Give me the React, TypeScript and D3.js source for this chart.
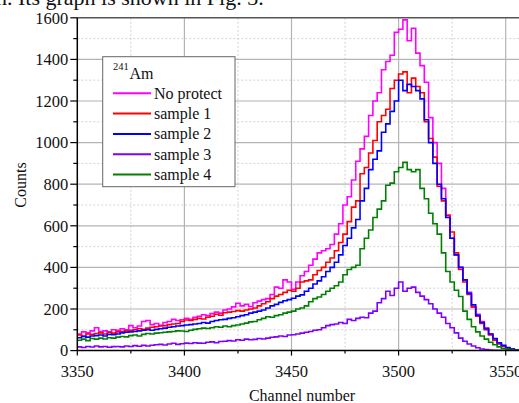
import React from 'react';
import * as d3 from 'd3';

// channel bins (2 channels per bin)
const channels = d3.range(3350, 3557, 2);

const noProtect = [
  80, 90, 85, 95, 110, 92, 95, 90, 100, 98,
  105, 100, 120, 110, 118, 140, 145, 125, 130, 122,
  135, 140, 150, 145, 148, 155, 150, 160, 165, 172,
  168, 178, 185, 180, 195, 200, 210, 228, 215, 222,
  212, 230, 238, 245, 250, 270, 305, 300, 340, 330,
  295, 330, 360, 380, 410, 440, 470, 480, 490, 510,
  560, 610, 700, 740, 820, 910, 970, 1030, 1130, 1200,
  1240, 1350, 1390, 1420, 1530, 1545, 1590, 1490, 1550, 1430,
  1370, 1290, 1120, 1000, 900, 780, 650, 540, 460, 400,
  340, 280, 210, 175, 140, 110, 80, 55, 35, 22,
  12, 7, 4, 3
];

const sample1 = [
  75, 70, 80, 78, 82, 85, 80, 88, 84, 90,
  92, 95, 98, 100, 105, 102, 108, 112, 115, 118,
  120, 125, 128, 130, 140, 147, 145, 150, 155, 152,
  160, 165, 175, 170, 182, 185, 188, 192, 190, 195,
  200, 205, 215, 225, 235, 250, 262, 270, 280, 290,
  285, 300, 330, 335, 340, 365, 385, 400, 425, 445,
  480, 520, 560, 620, 690, 720, 850, 880, 950, 1010,
  1100, 1130, 1160, 1260, 1300, 1330, 1340, 1240, 1310, 1270,
  1240, 1100, 1020, 930, 790, 720, 650, 570, 470, 390,
  330, 270, 210, 165, 130, 100, 75, 50, 32, 20,
  12, 6, 3, 2
];

const sample2 = [
  62, 68, 65, 70, 72, 75, 70, 78, 76, 80,
  85, 88, 90, 92, 95, 98, 100, 98, 102, 105,
  108, 112, 115, 118, 120, 123, 125, 128, 130, 135,
  132, 140, 145, 148, 150, 155, 158, 163, 168, 172,
  180, 185, 190, 195, 205, 215, 222, 232, 240, 245,
  252, 262, 268, 285, 300, 320, 335, 355, 380, 400,
  425, 460, 505, 540, 590, 630, 720, 780, 870, 920,
  960, 1050, 1090, 1150, 1200, 1300, 1250, 1280, 1270, 1250,
  1210, 1110, 1000, 900, 800, 730, 640, 540, 460, 400,
  340, 275, 220, 170, 135, 105, 80, 58, 38, 25,
  15, 8, 4, 3
];

const sample3 = [
  18, 15, 20, 17, 22, 18, 20, 16, 19, 20,
  18, 22, 20, 24, 21, 25, 22, 26, 28, 30,
  27, 32, 35, 30, 33, 36, 34, 38, 36, 35,
  40, 42, 38, 44, 45, 48, 46, 52, 50, 55,
  52, 54, 58, 56, 60, 64, 66, 70, 68, 75,
  76, 80, 84, 88, 92, 98, 100, 110, 120, 125,
  128, 135, 130, 150, 145, 155, 160, 158, 180, 190,
  230, 250, 285, 265, 300, 330, 285, 300, 305, 280,
  262, 245, 225, 200, 180, 160, 130, 110, 85, 60,
  45, 32, 22, 14, 8, 5, 3, 2, 1, 1,
  0, 0, 0, 0
];

const sample4 = [
  50, 55, 48, 58, 55, 60, 56, 62, 60, 65,
  68, 66, 72, 75, 70, 78, 82, 80, 84, 86,
  88, 90, 92, 95, 94, 92, 98, 102, 105, 108,
  106, 110, 115, 112, 118, 115, 120, 123, 128, 132,
  138, 140, 148, 155, 163, 160, 168, 172, 180, 185,
  190, 200, 205, 215, 235, 250, 258, 270, 285, 300,
  312, 330, 365, 390, 400, 410, 490, 540, 580, 640,
  680, 720, 795, 805, 860, 880, 905, 870, 860, 870,
  780, 730, 660, 610, 560, 470, 380, 330, 290, 260,
  190, 150, 115, 90, 70, 55, 40, 28, 18, 10,
  6, 3, 2, 1
];

const seriesNames = ['No protect', 'sample 1', 'sample 2', 'sample 3', 'sample 4'];
const seriesColors = ['#ff00ff', '#ff0000', '#0000ff', '#8000ff', '#008000'];
const seriesValues = [noProtect, sample1, sample2, sample3, sample4];

const xTicks = [3350, 3400, 3450, 3500, 3550];
const xMinor = [3375, 3425, 3475, 3525];
const yTicks = [0, 200, 400, 600, 800, 1000, 1200, 1400, 1600];
const yMinor = [100, 300, 500, 700, 900, 1100, 1300, 1500];

const W = 519;
const H = 403;
const font = '"Liberation Serif", "Times New Roman", serif';

export default function App() {
  const x = d3.scaleLinear().domain([3350, 3550]).range([77.3, 505.7]);
  const y = d3.scaleLinear().domain([0, 1600]).range([350.6, 17.8]);
  const left = x(3350);
  const right = W + 10;
  const top = y(1600);
  const bottom = y(0);

  const line = d3.line<[number, number]>()
    .x(d => x(d[0]))
    .y(d => y(d[1]))
    .curve(d3.curveStepAfter);

  const paths = seriesValues.map(vals => {
    const pts: [number, number][] = vals.map((v, i) => [channels[i], v]);
    pts.push([channels[channels.length - 1] + 2, vals[vals.length - 1]]);
    return line(pts) || '';
  });

  return (
    <svg width={W} height={H} style={{ position: 'absolute', left: 0, top: 0, background: '#fff' }}
      fontFamily={font}>
      <defs>
        <clipPath id="plot">
          <rect x={left} y={top - 2} width={right - left} height={bottom - top + 2} />
        </clipPath>
      </defs>

      {/* running text of the page, cut off at the top */}
      <text x={-4} y={5} fontSize={22} fill="#111">n. Its graph is shown in Fig. 3.</text>

      {/* grid */}
      {xMinor.map(t => (
        <line key={'xm' + t} x1={x(t)} x2={x(t)} y1={top} y2={bottom} stroke="#d2d2d2" strokeDasharray="2,2" />
      ))}
      {yMinor.map(t => (
        <line key={'ym' + t} x1={left} x2={right} y1={y(t)} y2={y(t)} stroke="#d2d2d2" strokeDasharray="2,2" />
      ))}
      {xTicks.slice(1).map(t => (
        <line key={'xg' + t} x1={x(t)} x2={x(t)} y1={top} y2={bottom} stroke="#b4b4b4" strokeWidth={1.2} />
      ))}
      {yTicks.slice(1, -1).map(t => (
        <line key={'yg' + t} x1={left} x2={right} y1={y(t)} y2={y(t)} stroke="#b4b4b4" strokeWidth={1.2} />
      ))}
      <line x1={left} x2={right} y1={top} y2={top} stroke="#555" strokeWidth={1.5} />

      {/* series */}
      <g clipPath="url(#plot)">
        {paths.map((p, i) => (
          <path key={seriesNames[i]} d={p} fill="none" stroke={seriesColors[i]} strokeWidth={1.6} />
        ))}
      </g>

      {/* axes */}
      <line x1={left} x2={left} y1={top} y2={bottom} stroke="#000" strokeWidth={1.5} />
      <line x1={left} x2={right} y1={bottom} y2={bottom} stroke="#000" strokeWidth={1.5} />
      {yTicks.map(t => (
        <g key={'yt' + t}>
          <line x1={left - 7} x2={left} y1={y(t)} y2={y(t)} stroke="#000" strokeWidth={1.2} />
          <text x={left - 9} y={y(t)} dy="0.35em" textAnchor="end" fontSize={16.5} fill="#111">{t}</text>
        </g>
      ))}
      {yMinor.map(t => (
        <line key={'ymt' + t} x1={left - 4} x2={left} y1={y(t)} y2={y(t)} stroke="#000" strokeWidth={1.2} />
      ))}
      {xTicks.map(t => (
        <g key={'xt' + t}>
          <line x1={x(t)} x2={x(t)} y1={bottom} y2={bottom + 5} stroke="#000" strokeWidth={1.2} />
          <text x={x(t)} y={bottom + 26} textAnchor="middle" fontSize={16.5} fill="#111">{t}</text>
        </g>
      ))}
      {xMinor.map(t => (
        <line key={'xmt' + t} x1={x(t)} x2={x(t)} y1={bottom} y2={bottom + 3} stroke="#000" strokeWidth={1.2} />
      ))}

      {/* axis titles */}
      <text x={302} y={401} textAnchor="middle" fontSize={16} fill="#111">Channel number</text>
      <text transform="translate(26,185) rotate(-90)" textAnchor="middle" fontSize={16} fill="#111">Counts</text>

      {/* legend */}
      <rect x={102.7} y={56.7} width={132.3} height={130} fill="#fff" stroke="#666" strokeWidth={1} />
      <text x={113} y={70} fontSize={10.5} fill="#111">241</text>
      <text x={129.5} y={78.5} fontSize={16} fill="#111">Am</text>
      {seriesNames.map((name, i) => {
        const cy = 93.3 + i * 20.3;
        return (
          <g key={'lg' + name}>
            <line x1={113} x2={151} y1={cy} y2={cy} stroke={seriesColors[i]} strokeWidth={2} />
            <text x={154} y={cy + 5.5} fontSize={16} fill="#111">{name}</text>
          </g>
        );
      })}
    </svg>
  );
}
